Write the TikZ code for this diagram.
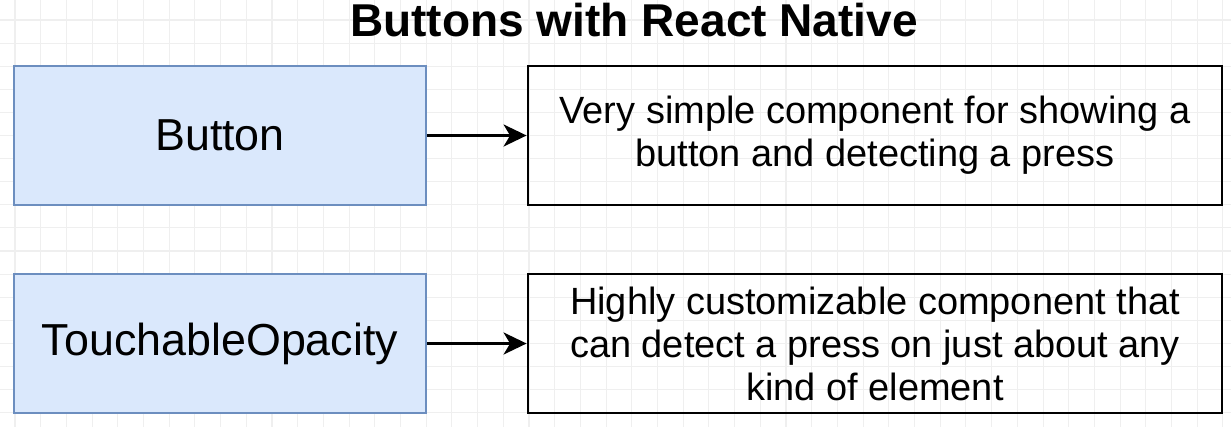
\documentclass[tikz,border=0pt]{standalone}
\usepackage{fontspec}
\setmainfont{Liberation Sans}
\usetikzlibrary{arrows.meta}
\definecolor{bluefill}{HTML}{DAE8FC}
\definecolor{blueborder}{HTML}{6C8EBF}
\definecolor{gridline}{HTML}{EFEFEF}

\begin{document}
\begin{tikzpicture}[
    comp/.style={draw=blueborder, fill=bluefill, line width=1.3pt,
        minimum width=8.24cm, minimum height=2.78cm,
        font=\fontsize{25.5}{30}\selectfont},
    desc/.style={draw=black, line width=1.6pt,
        minimum width=13.88cm, minimum height=2.78cm, align=center,
        font=\fontsize{21.6}{24.5}\selectfont},
    link/.style={line width=1.5pt,
        -{Stealth[length=0.46cm, width=0.44cm, inset=0.13cm]}}
]
    \useasboundingbox (0, 0) rectangle (24.62, -8.54);
    \fill[white] (0, 0) rectangle (24.62, -8.54);

    % background grid
    \foreach \i in {0,...,47}
        \draw[gridline, line width=0.6pt] ({0.3 + 0.514*\i}, 0) -- ({0.3 + 0.514*\i}, -8.54);
    \foreach \j in {0,...,17}
        \draw[gridline, line width=0.6pt] (0, {-0.4 - 0.462*\j}) -- (24.62, {-0.4 - 0.462*\j});

    \node[anchor=base, font=\fontsize{26.2}{31}\selectfont\bfseries] (title) at (12.68, -0.72)
        {Buttons with React Native};

    \node[comp] (button) at (4.4, -2.71) {Button};
    \node[comp] (touchable) at (4.4, -6.87) {TouchableOpacity};

    \node[desc] (buttondesc) at (17.5, -2.71)
        {Very simple component for showing a\\button and detecting a press};
    \node[desc] (touchdesc) at (17.5, -6.87)
        {Highly customizable component that\\can detect a press on just about any\\kind of element};

    \draw[link] (button) -- (buttondesc);
    \draw[link] (touchable) -- (touchdesc);
\end{tikzpicture}
\end{document}
